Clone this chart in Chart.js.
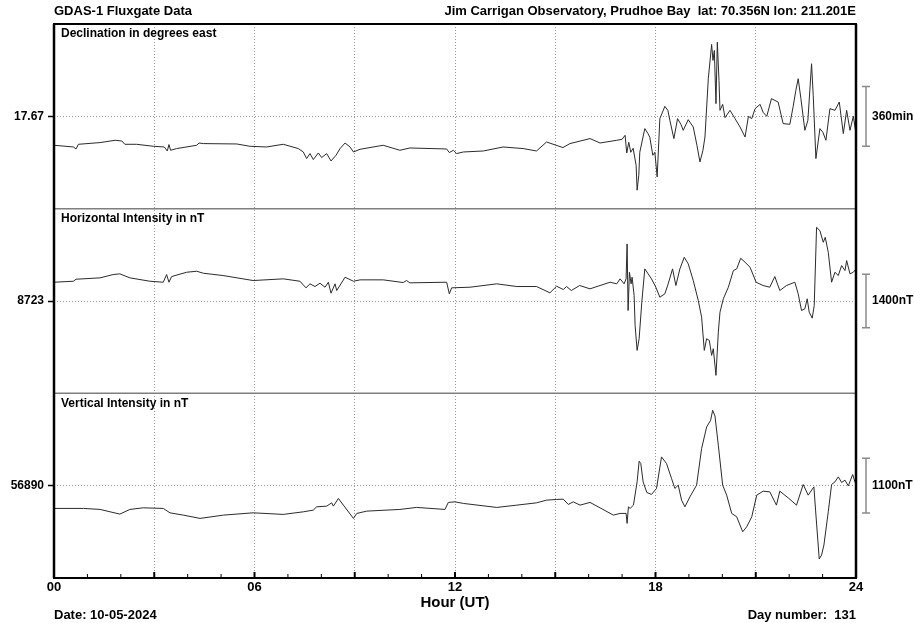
<!DOCTYPE html>
<html>
<head>
<meta charset="utf-8">
<title>GDAS-1 Fluxgate Data</title>
<script src="https://cdn.jsdelivr.net/npm/chart.js@4.4.1/dist/chart.umd.min.js"></script>
<style>
  html, body { margin: 0; padding: 0; background: #fff; }
  canvas { display: block; }
</style>
</head>
<body>
<canvas id="mag" width="914" height="623"></canvas>
<script>
// values, hours UT
const decHours = [0.00,0.58,0.66,0.73,1.38,1.83,2.03,2.12,2.47,2.97,3.30,3.39,3.44,3.49,3.67,4.27,4.34,4.47,5.47,5.86,6.36,6.86,7.31,7.46,7.56,7.66,7.76,7.91,8.01,8.16,8.29,8.44,8.56,8.71,8.86,8.96,9.16,9.85,10.35,10.65,11.75,11.83,11.95,12.05,12.25,12.85,13.44,14.04,14.44,14.74,15.23,15.44,16.04,16.34,16.84,17.00,17.09,17.14,17.20,17.26,17.33,17.42,17.45,17.50,17.53,17.68,17.77,17.83,17.92,17.98,18.05,18.13,18.28,18.37,18.43,18.55,18.66,18.76,18.83,18.98,19.13,19.24,19.33,19.42,19.48,19.58,19.68,19.72,19.76,19.81,19.85,19.90,19.93,20.01,20.08,20.23,20.38,20.53,20.68,20.78,20.88,20.98,21.13,21.22,21.33,21.47,21.67,21.82,22.02,22.12,22.20,22.27,22.35,22.47,22.56,22.67,22.72,22.80,22.92,23.01,23.10,23.22,23.37,23.50,23.62,23.72,23.82,23.92,24.00];
const decValues = [14.77,14.60,14.40,14.87,15.04,15.27,15.20,14.87,14.87,14.67,14.60,14.20,14.84,14.27,14.44,14.77,15.00,14.94,14.90,14.67,14.60,14.87,14.44,14.10,13.44,13.94,13.34,14.00,13.54,13.94,13.20,13.77,14.44,15.00,14.60,14.10,14.37,14.77,14.27,14.50,14.40,14.04,14.27,13.94,14.10,14.20,14.60,14.44,14.20,15.10,14.54,14.94,15.44,15.00,15.27,15.37,15.77,14.00,15.07,14.07,14.47,12.77,10.27,11.77,14.07,16.44,15.97,15.57,13.77,14.07,11.60,17.44,18.67,18.27,17.27,15.44,17.44,16.87,16.27,17.34,16.60,14.77,13.10,14.27,15.60,21.44,24.87,23.27,24.27,18.94,25.10,21.27,18.27,18.87,17.54,18.27,17.44,16.60,15.60,17.67,17.44,18.44,18.87,18.07,17.67,19.44,19.10,16.94,16.87,18.67,20.27,21.44,19.47,16.27,17.27,22.94,19.77,13.44,16.44,16.07,15.27,18.44,18.27,19.10,15.94,18.27,16.27,17.67,15.94];

const horHours = [0.00,0.58,0.66,1.38,1.77,1.97,2.27,2.87,3.27,3.37,3.44,3.52,3.97,4.27,4.47,5.06,5.96,6.86,7.36,7.54,7.66,7.81,7.96,8.11,8.21,8.29,8.41,8.46,8.71,8.96,9.16,9.85,10.45,10.55,10.65,11.75,11.83,11.90,12.45,13.25,13.85,14.44,14.84,15.04,15.24,15.34,15.48,15.73,16.04,16.34,16.64,16.84,16.94,17.06,17.12,17.15,17.18,17.22,17.27,17.30,17.36,17.39,17.45,17.51,17.59,17.68,17.78,17.88,18.01,18.13,18.28,18.38,18.51,18.61,18.73,18.86,18.98,19.13,19.28,19.38,19.46,19.53,19.61,19.68,19.73,19.81,19.88,19.93,20.03,20.18,20.33,20.43,20.55,20.68,20.83,21.01,21.22,21.42,21.57,21.72,21.92,22.17,22.27,22.37,22.47,22.54,22.60,22.69,22.75,22.82,22.92,23.02,23.08,23.17,23.27,23.37,23.47,23.57,23.67,23.72,23.82,23.92,24.00];
const horValues = [9212,9238,9290,9326,9412,9430,9326,9238,9212,9412,9212,9360,9472,9498,9446,9386,9256,9300,9238,9066,9170,9100,9186,9082,9212,8926,9170,8996,9342,9238,9274,9274,9204,9256,9196,9212,8910,9066,9082,9170,9100,9100,8936,9108,9022,9100,8996,9126,9040,9126,9212,9170,9300,9170,9300,10210,8476,9472,9170,9342,8866,8086,7436,7740,8692,9560,9430,9300,9082,8822,8910,9170,9560,9126,9560,9862,9690,9256,8736,8302,7436,7740,7696,7306,7480,6786,7912,8432,8780,9082,9516,9560,9836,9732,9602,9212,9126,9082,9360,8996,9126,9212,8910,8476,8520,8780,8432,8276,8606,10642,10556,10252,10382,9992,9212,9472,9386,9646,9516,9776,9430,9472,9560];

const verHours = [0.00,0.88,1.38,1.97,2.27,2.67,3.27,3.47,3.87,4.37,5.07,5.96,6.86,7.46,7.76,7.86,8.16,8.31,8.36,8.51,8.66,8.96,9.06,9.36,10.35,10.85,11.70,11.80,12.00,12.25,13.25,13.85,14.44,14.74,15.04,15.24,15.39,15.54,15.74,16.04,16.34,16.74,16.94,17.12,17.15,17.19,17.24,17.34,17.45,17.51,17.56,17.63,17.74,17.88,18.03,18.18,18.33,18.48,18.58,18.68,18.78,18.88,19.03,19.23,19.38,19.53,19.65,19.71,19.78,19.88,20.01,20.13,20.28,20.43,20.61,20.73,20.88,21.03,21.22,21.42,21.62,21.72,21.97,22.22,22.42,22.57,22.74,22.79,22.90,22.97,23.04,23.17,23.27,23.37,23.47,23.57,23.67,23.77,23.90,24.00];
const verValues = [56434,56434,56414,56320,56414,56446,56434,56346,56300,56234,56300,56346,56314,56366,56400,56466,56480,56546,56480,56634,56500,56234,56334,56380,56414,56454,56414,56554,56566,56534,56454,56500,56546,56600,56614,56620,56514,56566,56500,56554,56446,56300,56334,56334,56134,56466,56434,56500,56966,57380,57334,56966,56754,56714,56834,57466,57334,57034,56834,56900,56600,56466,56666,56900,57634,58066,58200,58400,58286,57700,56900,56700,56334,56266,55966,56066,56266,56700,56780,56766,56500,56780,56646,56500,56914,56700,56866,56400,55420,55500,55700,56366,56914,56966,57066,56954,57000,56886,57114,56900];

const panelIds = ['dec', 'hor', 'ver'];
const panelTitles = ['Declination in degrees east', 'Horizontal Intensity in nT', 'Vertical Intensity in nT'];
const panelCenters = [17.67, 8723, 56890];
const panelCenterLabels = ['17.67', '8723', '56890'];
const panelHalfSpans = [9.25, 2405, 1850];
const barSizes = [6, 1400, 1100];
const barLabels = ['360min', '1400nT', '1100nT'];

const FONT = '"Liberation Sans", Arial, Helvetica, sans-serif';

function pts(hours, vals) {
  return hours.map((h, i) => ({ x: h, y: vals[i] }));
}

const series = [pts(decHours, decValues), pts(horHours, horValues), pts(verHours, verValues)];

const scales = {
  x: {
    type: 'linear',
    position: 'bottom',
    min: 0,
    max: 24,
    afterBuildTicks: s => { s.ticks = [0, 3, 6, 9, 12, 15, 18, 21, 24].map(v => ({ value: v })); },
    afterFit: s => { s.height = 45; },
    ticks: {
      autoSkip: false,
      maxRotation: 0,
      padding: 2,
      color: '#000',
      font: { family: FONT, size: 13, weight: 'bold' },
      callback: v => (v % 6 === 0 ? String(v).padStart(2, '0') : '')
    },
    grid: {
      drawTicks: false,
      lineWidth: 1,
      color: ctx => (ctx.tick && ctx.tick.value > 0 && ctx.tick.value < 24 ? '#9a9a9a' : 'rgba(0,0,0,0)')
    },
    border: { display: false, dash: [1, 2] }
  }
};

panelIds.forEach((id, i) => {
  scales[id] = {
    type: 'linear',
    position: 'left',
    stack: 'panels',
    stackWeight: 1,
    weight: 3 - i,
    min: panelCenters[i] - panelHalfSpans[i],
    max: panelCenters[i] + panelHalfSpans[i],
    afterBuildTicks: s => { s.ticks = [{ value: panelCenters[i] }]; },
    afterFit: s => { s.width = 54; },
    ticks: {
      padding: 4,
      color: '#000',
      font: { family: FONT, size: 12, weight: 'bold' },
      callback: () => panelCenterLabels[i]
    },
    grid: {
      color: '#9a9a9a',
      lineWidth: 1,
      tickColor: '#000',
      tickWidth: 1.5,
      tickLength: 6,
      tickBorderDash: [1, 0]
    },
    border: { display: false, dash: [1, 2] }
  };
});

const decor = {
  id: 'decor',
  afterDraw(chart) {
    const c = chart.ctx;
    const a = chart.chartArea;
    const xs = chart.scales.x;
    c.save();

    // panel separators
    c.strokeStyle = '#7f7f7f';
    c.lineWidth = 1.5;
    ['dec', 'hor'].forEach(id => {
      const y = chart.scales[id].bottom;
      c.beginPath();
      c.moveTo(a.left, y);
      c.lineTo(a.right, y);
      c.stroke();
    });

    // hourly ticks inside the bottom axis
    c.strokeStyle = '#000';
    for (let h = 1; h < 24; h++) {
      const px = xs.getPixelForValue(h);
      const major = h % 3 === 0;
      c.lineWidth = major ? 2 : 1;
      c.beginPath();
      c.moveTo(px, a.bottom);
      c.lineTo(px, a.bottom - (major ? 6 : 4));
      c.stroke();
    }

    // frame
    c.lineWidth = 2;
    c.strokeRect(a.left, a.top, a.right - a.left, a.bottom - a.top);
    c.lineWidth = 2.5;
    c.beginPath();
    c.moveTo(a.left, a.top);
    c.lineTo(a.left, a.bottom);
    c.moveTo(a.right, a.top);
    c.lineTo(a.right, a.bottom);
    c.stroke();

    // panel titles and scale bars
    panelIds.forEach((id, i) => {
      const s = chart.scales[id];
      c.fillStyle = '#000';
      c.font = 'bold 12px ' + FONT;
      c.textAlign = 'left';
      c.textBaseline = 'middle';
      c.fillText(panelTitles[i], a.left + 7, s.top + 10);

      const yc = s.getPixelForValue(panelCenters[i]);
      const y1 = s.getPixelForValue(panelCenters[i] + barSizes[i] / 2);
      const y2 = s.getPixelForValue(panelCenters[i] - barSizes[i] / 2);
      const bx = a.right + 10;
      c.strokeStyle = '#8a8a8a';
      c.lineWidth = 1.5;
      c.beginPath();
      c.moveTo(bx, y1); c.lineTo(bx, y2);
      c.moveTo(bx - 4, y1); c.lineTo(bx + 4, y1);
      c.moveTo(bx - 4, y2); c.lineTo(bx + 4, y2);
      c.stroke();
      c.fillText(barLabels[i], bx + 6, yc);
    });

    // header and footer text
    c.fillStyle = '#000';
    c.font = 'bold 13px ' + FONT;
    c.textBaseline = 'middle';
    c.textAlign = 'left';
    c.fillText('GDAS-1 Fluxgate Data', a.left, 11);
    c.fillText('Date: 10-05-2024', a.left, 615);
    c.textAlign = 'right';
    c.fillText('Jim Carrigan Observatory, Prudhoe Bay  lat: 70.356N lon: 211.201E', a.right, 11);
    c.fillText('Day number:  131', a.right, 615);
    c.textAlign = 'center';
    c.font = 'bold 15px ' + FONT;
    c.fillText('Hour (UT)', (a.left + a.right) / 2, 603);
    c.restore();
  }
};

new Chart(document.getElementById('mag'), {
  type: 'line',
  data: {
    datasets: panelIds.map((id, i) => ({
      label: panelTitles[i],
      data: series[i],
      yAxisID: id,
      xAxisID: 'x',
      borderColor: '#2b2b2b',
      borderWidth: 1,
      pointRadius: 0,
      tension: 0
    }))
  },
  options: {
    responsive: false,
    animation: false,
    devicePixelRatio: 1,
    layout: { padding: { left: 0, top: 24, right: 58, bottom: 0 } },
    plugins: {
      legend: { display: false },
      tooltip: { enabled: false },
      title: { display: false }
    },
    scales: scales
  },
  plugins: [decor]
});
</script>
</body>
</html>
